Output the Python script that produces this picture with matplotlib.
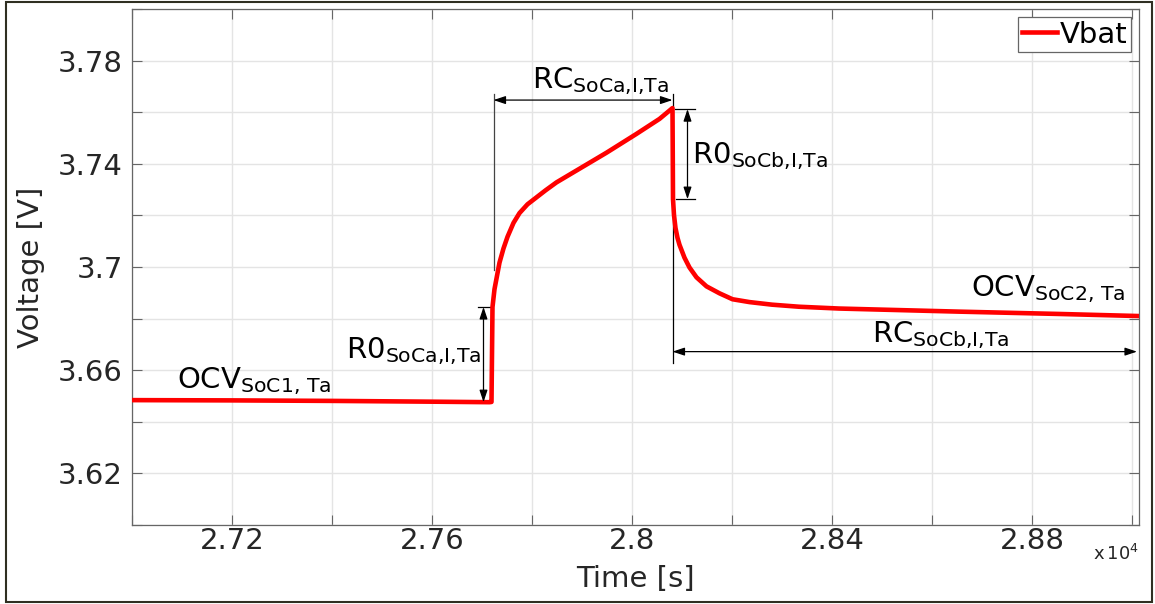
import matplotlib
matplotlib.use("Agg")
import matplotlib.pyplot as plt
from matplotlib.patches import Rectangle
from matplotlib.ticker import MultipleLocator, FuncFormatter

plt.rcParams['font.family'] = 'DejaVu Sans'
plt.rcParams['mathtext.default'] = 'regular'

# Vbat trace around one current pulse (time in s, voltage in V)
t_rest = [27000, 27200, 27400, 27600, 27715, 27719]
v_rest = [3.6484, 3.6483, 3.6481, 3.6478, 3.6476, 3.6477]

t_pulse = [27721, 27725, 27735, 27743, 27751, 27763, 27775, 27791, 27809,
           27827, 27849, 27889, 27949, 28009, 28055, 28081]
v_pulse = [3.6845, 3.6914, 3.7017, 3.7072, 3.7117, 3.7171, 3.7209, 3.7243,
           3.7270, 3.7297, 3.7328, 3.7374, 3.7443, 3.7516, 3.7574, 3.7616]

t_relax = [28082, 28084, 28087, 28091, 28095, 28105, 28115, 28129, 28149,
           28175, 28201, 28235, 28280, 28334, 28414, 28534, 28654, 28854,
           29012]
v_relax = [3.7263, 3.7201, 3.7151, 3.7113, 3.7086, 3.7036, 3.6998, 3.6960,
           3.6925, 3.6898, 3.6875, 3.6864, 3.6854, 3.6846, 3.6839, 3.6833,
           3.6827, 3.6818, 3.6810]

time = t_rest + t_pulse + t_relax
vbat = v_rest + v_pulse + v_relax

v_ticks = [3.62, 3.66, 3.70, 3.74, 3.78]

fig = plt.figure(figsize=(11.55, 6.04), dpi=100)
ax = fig.add_axes([132 / 1155, 1 - 525 / 604, (1139 - 132) / 1155, (525 - 9) / 604])

ax.plot(time, vbat, color='#ff0000', lw=3.3, label='Vbat', zorder=3,
        solid_joinstyle='round')

ax.set_xlim(27000, 29014)
ax.set_ylim(3.60, 3.80)
ax.xaxis.set_major_locator(MultipleLocator(400))
ax.xaxis.set_minor_locator(MultipleLocator(200))
ax.set_yticks(v_ticks)
ax.yaxis.set_minor_locator(MultipleLocator(0.02))
ax.xaxis.set_major_formatter(FuncFormatter(lambda v, p: '%g' % round(v / 1e4, 4)))
ax.yaxis.set_major_formatter(FuncFormatter(lambda v, p: '%g' % round(v, 4)))

ax.grid(True, which='both', color='#e4e4e4', lw=1)
ax.set_axisbelow(True)
for s in ax.spines.values():
    s.set_color('#666666')
    s.set_linewidth(0.9)
ax.tick_params(which='both', direction='in', length=7, width=0.8, color='#666666',
               top=True, right=True, labelsize=21, labelcolor='#262626')
ax.tick_params(axis='y', pad=6.5)
ax.tick_params(axis='x', pad=1.5)

ax.set_xlabel('Time [s]', fontsize=21, color='#262626', labelpad=7)
ax.set_ylabel('Voltage [V]', fontsize=21, color='#262626', labelpad=9)
ax.text(1.0, -0.068, r'x$\,10^{4}$', transform=ax.transAxes, ha='right',
        va='baseline', fontsize=13, color='#262626')

# parameter annotations
arrow = dict(arrowstyle='<|-|>,head_length=0.45,head_width=0.15', mutation_scale=16,
             color='black', lw=0.9, shrinkA=0, shrinkB=0)
fs = 21

ax.text(27090, 3.6530, r'OCV$_{SoC1{,}\ Ta}$', fontsize=fs, va='baseline')
ax.text(28678, 3.6887, r'OCV$_{SoC2{,}\ Ta}$', fontsize=fs, va='baseline')

ax.annotate('', xy=(27703, 3.6845), xytext=(27703, 3.6476), arrowprops=arrow)
ax.plot([27691, 27719], [3.6845, 3.6845], color='black', lw=0.9)
ax.text(27429, 3.6645, r'R0$_{SoCa{,}I{,}Ta}$', fontsize=fs, va='baseline')

ax.annotate('', xy=(27723, 3.7647), xytext=(28081, 3.7647), arrowprops=arrow)
ax.plot([27723, 27723], [3.7670, 3.6990], color='#444444', lw=0.9)
ax.plot([28081, 28081], [3.7670, 3.7616], color='black', lw=0.9)
ax.text(27799, 3.7693, r'RC$_{SoCa{,}I{,}Ta}$', fontsize=fs, va='baseline')

ax.annotate('', xy=(28111, 3.7612), xytext=(28111, 3.7263), arrowprops=arrow)
ax.plot([28085, 28125], [3.7612, 3.7612], color='black', lw=0.9)
ax.plot([28087, 28125], [3.7263, 3.7263], color='black', lw=0.9)
ax.text(28121, 3.7401, r'R0$_{SoCb{,}I{,}Ta}$', fontsize=fs, va='baseline')

ax.plot([28081, 28081], [3.7190, 3.6628], color='black', lw=0.9)
ax.annotate('', xy=(28081, 3.6672), xytext=(29010, 3.6672), arrowprops=arrow)
ax.text(28480, 3.6710, r'RC$_{SoCb{,}I{,}Ta}$', fontsize=fs, va='baseline')

leg = ax.legend(loc='upper right', fontsize=21, handlelength=1.2, handletextpad=0.1,
                borderpad=0.12, borderaxespad=0.28, fancybox=False, framealpha=1)
leg.get_frame().set_edgecolor('#666666')
leg.get_frame().set_linewidth(0.9)

# outer frame of the figure
fig.patches.append(Rectangle((6 / 1155, 2 / 604), 1146 / 1155, 600 / 604,
                             transform=fig.transFigure, fill=False,
                             ec='#2f2f22', lw=1.5))

fig.savefig('out.png', dpi=100)
